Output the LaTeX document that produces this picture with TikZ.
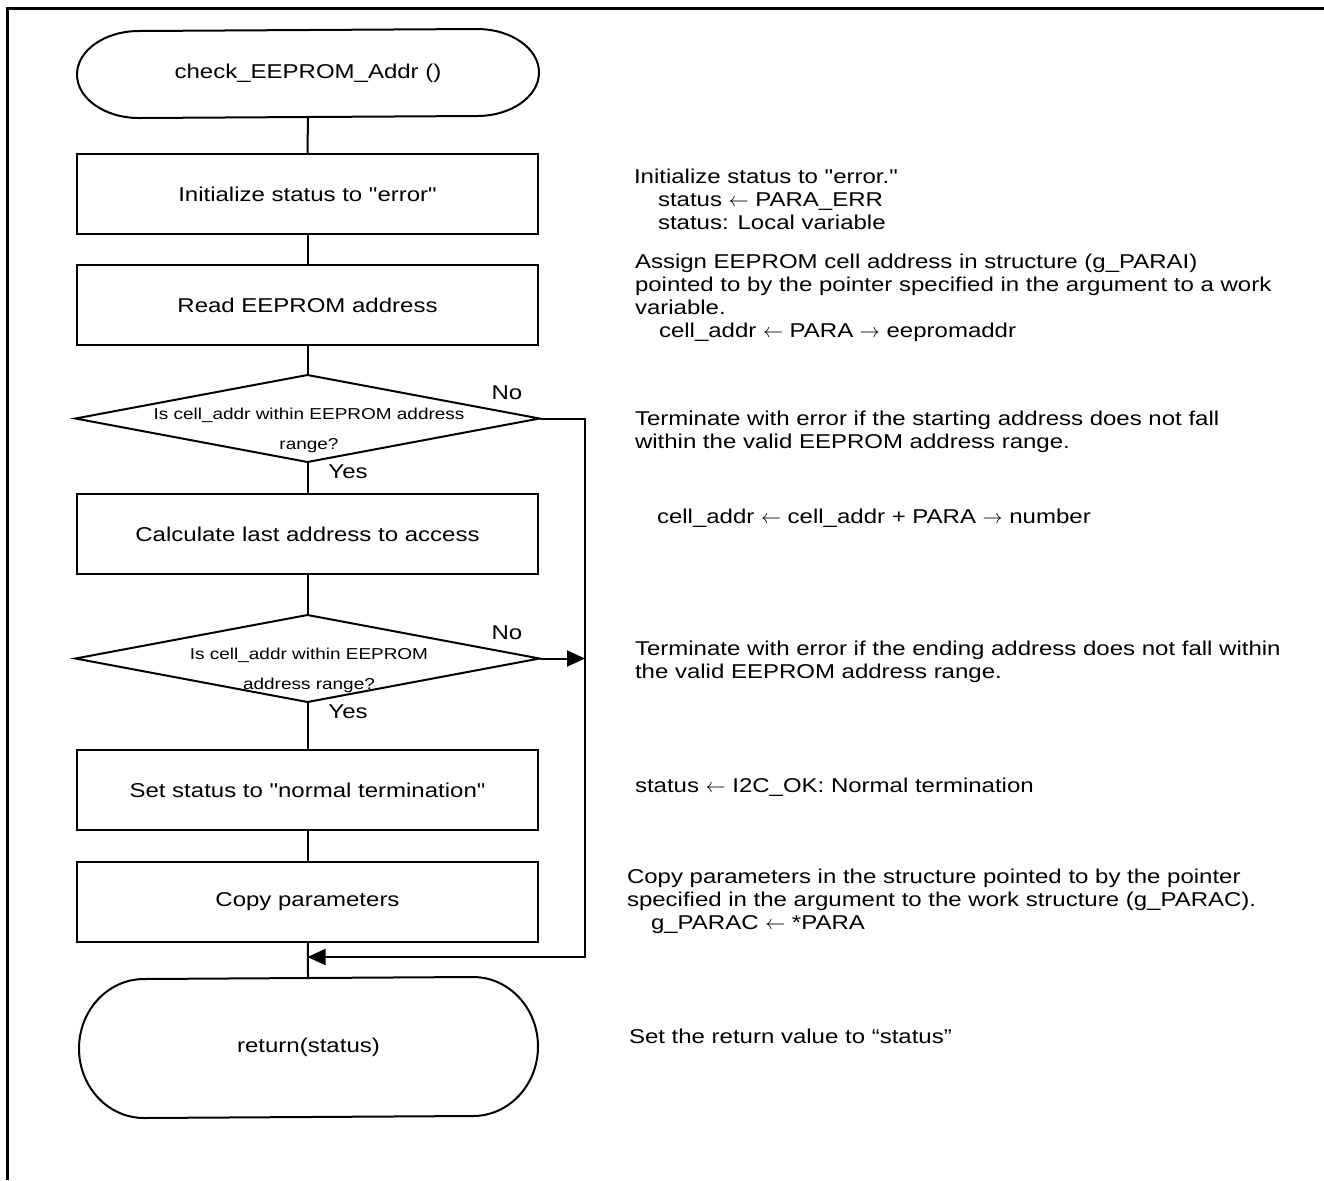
\documentclass[tikz,border=0pt]{standalone}
\usepackage{fontspec}
\setmainfont{Liberation Sans}[FakeStretch=1.2, Ligatures=TeXOff]
\usetikzlibrary{arrows.meta,calc}
% stadium outline around a named node: #1 node, #2 end x radius, #3 end y radius
\newcommand\termshape[3]{%
  \draw[line join=round] ($(#1.south west)+(#2,0)$)
    arc[start angle=270,end angle=90,x radius=#2,y radius=#3]
    -- ($(#1.north east)-(#2,0)$)
    arc[start angle=90,end angle=-90,x radius=#2,y radius=#3]
    -- cycle;}
% diamond outline through the four side anchors of a named node
\newcommand\decshape[1]{%
  \draw (#1.north) -- (#1.east) -- (#1.south) -- (#1.west) -- cycle;}
\begin{document}
\begin{tikzpicture}[x=0.5pt,y=-0.5pt,
  line width=1pt, line join=miter,
  font=\fontsize{10}{11.5}\selectfont,
  box/.style={draw, rectangle, minimum width=230.5pt, minimum height=40pt, inner sep=0pt},
  slot/.style={rectangle, inner sep=0pt},
  dtext/.style={font=\fontsize{7.9}{15}\selectfont, align=center, inner sep=0pt},
  note/.style={anchor=west, align=left, inner sep=0pt},
  lbl/.style={inner sep=0pt},
  tip/.style={-{Triangle[length=9pt,width=8pt]}}
]
\useasboundingbox (0,0) rectangle (1324,1180);

% page frame (top and left edges)
\draw[line width=1.5pt] (1324,8) -- (7,8) -- (7,1180);

% flow chart column
\node[slot, minimum width=230pt, minimum height=43.5pt] (start) at (308,73.5) {check\_EEPROM\_Addr ()};
\termshape{start}{31pt}{21.75pt}

\node[box] (box1) at (307.5,194) {Initialize status to "error"};
\node[box] (box2) at (307.5,305) {Read EEPROM address};

\node[slot, minimum width=231pt, minimum height=42.5pt] (dA) at (307.5,418.5) {};
\decshape{dA}
\node[dtext] (dAt) at (309,430) {Is cell\_addr within EEPROM address\\range?};

\node[box] (box3) at (307.5,534) {Calculate last address to access};

\node[slot, minimum width=231pt, minimum height=42.5pt] (dB) at (307.5,658.5) {};
\decshape{dB}
\node[dtext] (dBt) at (309,670) {Is cell\_addr within EEPROM\\address range?};

\node[box] (box4) at (307.5,790) {Set status to "normal termination"};
\node[box] (box5) at (307.5,902) {Copy parameters};

\node[slot, minimum width=228.5pt, minimum height=69.5pt] (stop) at (308.5,1047.5) {return(status)};
\termshape{stop}{32.5pt}{34.75pt}

% connectors
\draw (start) -- (box1);
\draw (box1) -- (box2);
\draw (box2) -- (dA.north);
\draw (dA.south) -- (box3);
\draw (box3) -- (dB.north);
\draw (dB.south) -- (box4);
\draw (box4) -- (box5);
\draw (box5) -- (stop);

\coordinate (railtop) at (585,418.5);
\coordinate (railbot) at (585,957);
\coordinate (join) at (307.5,957);
\draw[tip] (dA.east) -- (railtop) -- (railbot) -- (join);
\draw[tip] (dB.east) -- (dB.east -| railtop);

% branch labels
\node[lbl] (noA) at (507,393) {No};
\node[lbl] (yesA) at (348,472) {Yes};
\node[lbl] (noB) at (507,633) {No};
\node[lbl] (yesB) at (348,712) {Yes};

% notes
\node[note] (n1) at (633,199) {Initialize status to "error."\\\hspace*{12pt}status $\leftarrow$ PARA\_ERR\\\hspace*{12pt}status: Local variable};
\node[note] (n2) at (634,298) {Assign EEPROM cell address in structure (g\_PARAI)\\pointed to by the pointer specified in the argument to a work\\variable.\\\hspace*{12pt}cell\_addr $\leftarrow$ PARA $\rightarrow$ eepromaddr};
\node[note] (n3) at (634,432) {Terminate with error if the starting address does not fall\\within the valid EEPROM address range.};
\node[note] (n4) at (656,518) {cell\_addr $\leftarrow$ cell\_addr + PARA $\rightarrow$ number};
\node[note] (n5) at (634,661.5) {Terminate with error if the ending address does not fall within\\the valid EEPROM address range.};
\node[note] (n6) at (634,787) {status $\leftarrow$ I2C\_OK: Normal termination};
\node[note] (n7) at (626,901) {Copy parameters in the structure pointed to by the pointer\\specified in the argument to the work structure (g\_PARAC).\\\hspace*{12pt}g\_PARAC $\leftarrow$ *PARA};
\node[note] (n8) at (628,1036) {Set the return value to “status”};
\end{tikzpicture}
\end{document}
